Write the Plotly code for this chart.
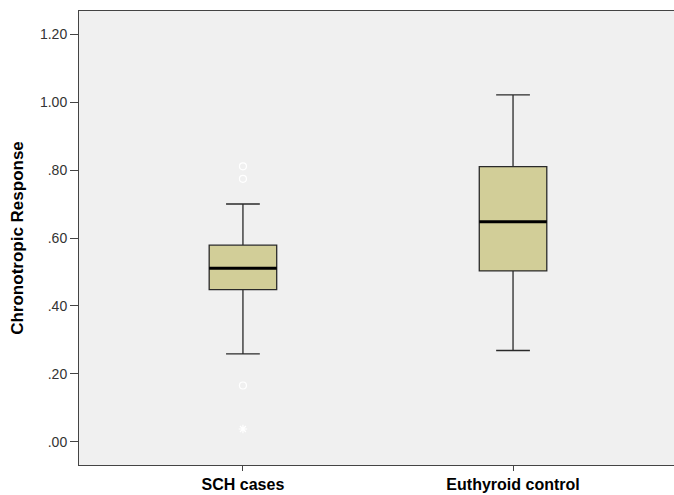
import plotly.graph_objects as go

categories = ["SCH cases", "Euthyroid control"]
q1 = [0.448, 0.503]
median = [0.511, 0.648]
q3 = [0.579, 0.810]
lower_whisker = [0.259, 0.269]
upper_whisker = [0.700, 1.021]
# outliers (circles) and extreme values (stars) per group
outlier_group = [0, 0, 0]
outlier_values = [0.811, 0.774, 0.166]
extreme_group = [0]
extreme_values = [0.038]

ytick_vals = [0.0, 0.2, 0.4, 0.6, 0.8, 1.0, 1.2]
ytick_text = [".00", ".20", ".40", ".60", ".80", "1.00", "1.20"]

positions = list(range(len(categories)))
box_width = 0.25

fig = go.Figure()
fig.add_trace(go.Box(
    x=positions, q1=q1, median=median, q3=q3,
    lowerfence=lower_whisker, upperfence=upper_whisker,
    width=box_width, whiskerwidth=0.5,
    fillcolor="#D2CE98", line=dict(color="#2a2a2a", width=1.3),
    boxpoints=False, hoverinfo="skip", showlegend=False,
))
# thick median lines
for p, m in zip(positions, median):
    fig.add_trace(go.Scatter(
        x=[p - box_width / 2, p + box_width / 2], y=[m, m], mode="lines",
        line=dict(color="black", width=3), showlegend=False, hoverinfo="skip",
    ))
fig.add_trace(go.Scatter(
    x=outlier_group, y=outlier_values, mode="markers",
    marker=dict(symbol="circle-open", size=7, color="white", line=dict(width=1.2, color="white")),
    showlegend=False, hoverinfo="skip",
))
fig.add_trace(go.Scatter(
    x=extreme_group, y=extreme_values, mode="markers",
    marker=dict(symbol="asterisk-open", size=7, color="white", line=dict(width=1.2, color="white")),
    showlegend=False, hoverinfo="skip",
))

fig.update_layout(
    width=674, height=495,
    margin=dict(l=79, r=0, t=11, b=30),
    paper_bgcolor="white", plot_bgcolor="#F0F0F0",
    font=dict(family="Liberation Sans, Arial, sans-serif"),
    xaxis=dict(
        range=[-0.607, 1.596], tickvals=positions, ticktext=categories,
        ticks="outside", ticklen=5, tickcolor="#444", tickwidth=1,
        showline=True, linecolor="#444", linewidth=1, mirror=True,
        showgrid=False, zeroline=False, automargin=False,
        tickfont=dict(size=16, color="black", family="Liberation Sans, Arial, sans-serif", weight="bold"),
    ),
    yaxis=dict(
        range=[-0.068, 1.268], tickvals=ytick_vals, ticktext=ytick_text,
        ticks="outside", ticklen=8, tickcolor="#444", tickwidth=1,
        showline=True, linecolor="#444", linewidth=1, mirror=False,
        showgrid=False, zeroline=False, automargin=False,
        tickfont=dict(size=14, color="#333"),
        title=dict(text="Chronotropic Response", standoff=12,
                   font=dict(size=17, color="black", weight="bold")),
    ),
)
fig.write_html(
    "out.html",
    config={"displayModeBar": False},
    post_script="document.body.style.margin='0';document.body.style.overflow='hidden';",
)
